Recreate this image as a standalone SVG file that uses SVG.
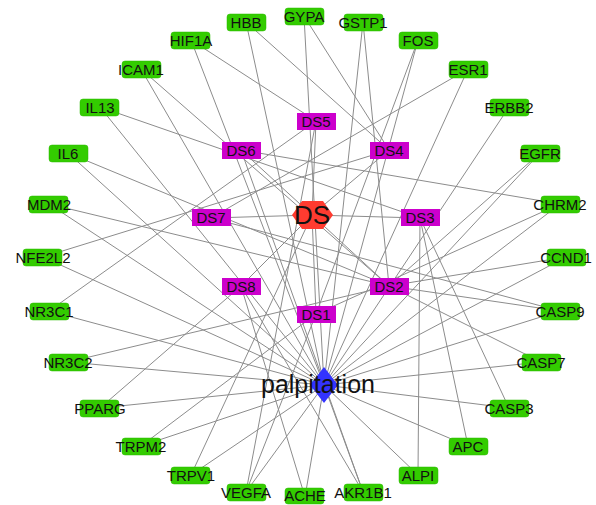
<svg xmlns="http://www.w3.org/2000/svg" width="596" height="505" viewBox="0 0 596 505">
<style>
.e{stroke:#8c8c8c;stroke-width:1;fill:none}
.g rect{fill:#33cc00;stroke:#2bb800;stroke-width:0.5}
.m rect{fill:#cc00cc}
text{font-family:"Liberation Sans",Arial,sans-serif;font-size:15px;fill:#111;text-anchor:middle}
</style>
<rect width="596" height="505" fill="#fff"/>
<g id="edges">
<line class="e" x1="312" y1="215" x2="316" y2="314"/>
<line class="e" x1="312" y1="215" x2="389" y2="286"/>
<line class="e" x1="312" y1="215" x2="420" y2="218"/>
<line class="e" x1="312" y1="215" x2="389" y2="150"/>
<line class="e" x1="312" y1="215" x2="316" y2="121"/>
<line class="e" x1="312" y1="215" x2="241" y2="150"/>
<line class="e" x1="312" y1="215" x2="211" y2="218"/>
<line class="e" x1="312" y1="215" x2="241" y2="286"/>
<line class="e" x1="324" y1="385" x2="246" y2="22"/>
<line class="e" x1="324" y1="385" x2="304" y2="16"/>
<line class="e" x1="324" y1="385" x2="363" y2="22"/>
<line class="e" x1="324" y1="385" x2="418" y2="40"/>
<line class="e" x1="324" y1="385" x2="468" y2="69"/>
<line class="e" x1="324" y1="385" x2="509" y2="107"/>
<line class="e" x1="324" y1="385" x2="540" y2="153"/>
<line class="e" x1="324" y1="385" x2="560" y2="204"/>
<line class="e" x1="324" y1="385" x2="566" y2="257"/>
<line class="e" x1="324" y1="385" x2="560" y2="311"/>
<line class="e" x1="324" y1="385" x2="541" y2="362"/>
<line class="e" x1="324" y1="385" x2="509" y2="408"/>
<line class="e" x1="324" y1="385" x2="468" y2="446"/>
<line class="e" x1="324" y1="385" x2="418" y2="475"/>
<line class="e" x1="324" y1="385" x2="363" y2="492"/>
<line class="e" x1="324" y1="385" x2="305" y2="497"/>
<line class="e" x1="324" y1="385" x2="246" y2="492"/>
<line class="e" x1="324" y1="385" x2="191" y2="475"/>
<line class="e" x1="324" y1="385" x2="141" y2="446"/>
<line class="e" x1="324" y1="385" x2="100" y2="408"/>
<line class="e" x1="324" y1="385" x2="68" y2="362"/>
<line class="e" x1="324" y1="385" x2="49" y2="311"/>
<line class="e" x1="324" y1="385" x2="43" y2="257"/>
<line class="e" x1="324" y1="385" x2="49" y2="204"/>
<line class="e" x1="324" y1="385" x2="68" y2="153"/>
<line class="e" x1="324" y1="385" x2="100" y2="107"/>
<line class="e" x1="324" y1="385" x2="141" y2="69"/>
<line class="e" x1="324" y1="385" x2="191" y2="40"/>
<line class="e" x1="389" y1="150" x2="246" y2="22"/>
<line class="e" x1="389" y1="150" x2="304" y2="16"/>
<line class="e" x1="389" y1="286" x2="363" y2="22"/>
<line class="e" x1="316" y1="314" x2="418" y2="40"/>
<line class="e" x1="211" y1="218" x2="468" y2="69"/>
<line class="e" x1="389" y1="286" x2="540" y2="153"/>
<line class="e" x1="241" y1="150" x2="560" y2="204"/>
<line class="e" x1="316" y1="314" x2="560" y2="204"/>
<line class="e" x1="389" y1="286" x2="566" y2="257"/>
<line class="e" x1="389" y1="286" x2="560" y2="311"/>
<line class="e" x1="211" y1="218" x2="560" y2="311"/>
<line class="e" x1="389" y1="286" x2="541" y2="362"/>
<line class="e" x1="420" y1="218" x2="509" y2="408"/>
<line class="e" x1="420" y1="218" x2="468" y2="446"/>
<line class="e" x1="420" y1="218" x2="418" y2="475"/>
<line class="e" x1="241" y1="150" x2="363" y2="492"/>
<line class="e" x1="241" y1="286" x2="363" y2="492"/>
<line class="e" x1="241" y1="286" x2="305" y2="497"/>
<line class="e" x1="316" y1="314" x2="246" y2="492"/>
<line class="e" x1="316" y1="121" x2="246" y2="492"/>
<line class="e" x1="312" y1="215" x2="191" y2="475"/>
<line class="e" x1="316" y1="314" x2="141" y2="446"/>
<line class="e" x1="241" y1="286" x2="100" y2="408"/>
<line class="e" x1="389" y1="286" x2="68" y2="362"/>
<line class="e" x1="316" y1="121" x2="49" y2="311"/>
<line class="e" x1="389" y1="150" x2="43" y2="257"/>
<line class="e" x1="389" y1="286" x2="49" y2="204"/>
<line class="e" x1="389" y1="286" x2="68" y2="153"/>
<line class="e" x1="420" y1="218" x2="100" y2="107"/>
<line class="e" x1="389" y1="286" x2="141" y2="69"/>
<line class="e" x1="316" y1="121" x2="191" y2="40"/>
</g>
<g id="HBB" class="g"><rect x="227" y="14" width="39" height="17" rx="3"/><text x="246" y="28">HBB</text></g>
<g id="GYPA" class="g"><rect x="285" y="8" width="39" height="17" rx="3"/><text x="304" y="22">GYPA</text></g>
<g id="GSTP1" class="g"><rect x="344" y="14" width="39" height="17" rx="3"/><text x="363" y="28">GSTP1</text></g>
<g id="FOS" class="g"><rect x="399" y="32" width="39" height="17" rx="3"/><text x="418" y="46">FOS</text></g>
<g id="ESR1" class="g"><rect x="449" y="61" width="39" height="17" rx="3"/><text x="468" y="75">ESR1</text></g>
<g id="ERBB2" class="g"><rect x="490" y="99" width="39" height="17" rx="3"/><text x="509" y="113">ERBB2</text></g>
<g id="EGFR" class="g"><rect x="521" y="145" width="39" height="17" rx="3"/><text x="540" y="159">EGFR</text></g>
<g id="CHRM2" class="g"><rect x="541" y="196" width="39" height="17" rx="3"/><text x="560" y="210">CHRM2</text></g>
<g id="CCND1" class="g"><rect x="547" y="249" width="39" height="17" rx="3"/><text x="566" y="263">CCND1</text></g>
<g id="CASP9" class="g"><rect x="541" y="303" width="39" height="17" rx="3"/><text x="560" y="317">CASP9</text></g>
<g id="CASP7" class="g"><rect x="522" y="354" width="39" height="17" rx="3"/><text x="541" y="368">CASP7</text></g>
<g id="CASP3" class="g"><rect x="490" y="400" width="39" height="17" rx="3"/><text x="509" y="414">CASP3</text></g>
<g id="APC" class="g"><rect x="449" y="438" width="39" height="17" rx="3"/><text x="468" y="452">APC</text></g>
<g id="ALPI" class="g"><rect x="399" y="467" width="39" height="17" rx="3"/><text x="418" y="481">ALPI</text></g>
<g id="AKR1B1" class="g"><rect x="344" y="484" width="39" height="17" rx="3"/><text x="363" y="498">AKR1B1</text></g>
<g id="ACHE" class="g"><rect x="285" y="488" width="39" height="16" rx="3"/><text x="305" y="501">ACHE</text></g>
<g id="VEGFA" class="g"><rect x="227" y="484" width="39" height="17" rx="3"/><text x="246" y="498">VEGFA</text></g>
<g id="TRPV1" class="g"><rect x="171" y="467" width="39" height="17" rx="3"/><text x="191" y="481">TRPV1</text></g>
<g id="TRPM2" class="g"><rect x="122" y="438" width="39" height="17" rx="3"/><text x="141" y="452">TRPM2</text></g>
<g id="PPARG" class="g"><rect x="80" y="400" width="39" height="17" rx="3"/><text x="100" y="414">PPARG</text></g>
<g id="NR3C2" class="g"><rect x="49" y="354" width="39" height="17" rx="3"/><text x="68" y="368">NR3C2</text></g>
<g id="NR3C1" class="g"><rect x="30" y="303" width="39" height="17" rx="3"/><text x="49" y="317">NR3C1</text></g>
<g id="NFE2L2" class="g"><rect x="23" y="249" width="39" height="17" rx="3"/><text x="43" y="263">NFE2L2</text></g>
<g id="MDM2" class="g"><rect x="29" y="196" width="39" height="17" rx="3"/><text x="49" y="210">MDM2</text></g>
<g id="IL6" class="g"><rect x="49" y="145" width="39" height="17" rx="3"/><text x="68" y="159">IL6</text></g>
<g id="IL13" class="g"><rect x="80" y="99" width="39" height="17" rx="3"/><text x="100" y="113">IL13</text></g>
<g id="ICAM1" class="g"><rect x="122" y="61" width="39" height="17" rx="3"/><text x="141" y="75">ICAM1</text></g>
<g id="HIF1A" class="g"><rect x="171" y="32" width="39" height="17" rx="3"/><text x="191" y="46">HIF1A</text></g>
<g id="DS5" class="m"><rect x="297" y="113" width="39" height="17"/><text x="316" y="127">DS5</text></g>
<g id="DS4" class="m"><rect x="370" y="142" width="39" height="17"/><text x="389" y="156">DS4</text></g>
<g id="DS6" class="m"><rect x="222" y="142" width="39" height="17"/><text x="241" y="156">DS6</text></g>
<g id="DS7" class="m"><rect x="192" y="209" width="39" height="17"/><text x="211" y="223">DS7</text></g>
<g id="DS3" class="m"><rect x="401" y="209" width="39" height="17"/><text x="420" y="223">DS3</text></g>
<g id="DS8" class="m"><rect x="222" y="278" width="39" height="17"/><text x="241" y="292">DS8</text></g>
<g id="DS2" class="m"><rect x="370" y="278" width="39" height="17"/><text x="389" y="292">DS2</text></g>
<g id="DS1" class="m"><rect x="297" y="306" width="39" height="17"/><text x="316" y="320">DS1</text></g>
<g id="DS"><polygon points="292,215 302,201 323,201 333,215 323,229 302,229" fill="#ff3b30"/><text x="312" y="224" style="font-size:26px">DS</text></g>
<g id="palpitation"><polygon points="324,367 338,385 324,403 310,385" fill="#3333ff"/><text x="318" y="393" style="font-size:25px">palpitation</text></g>
</svg>
